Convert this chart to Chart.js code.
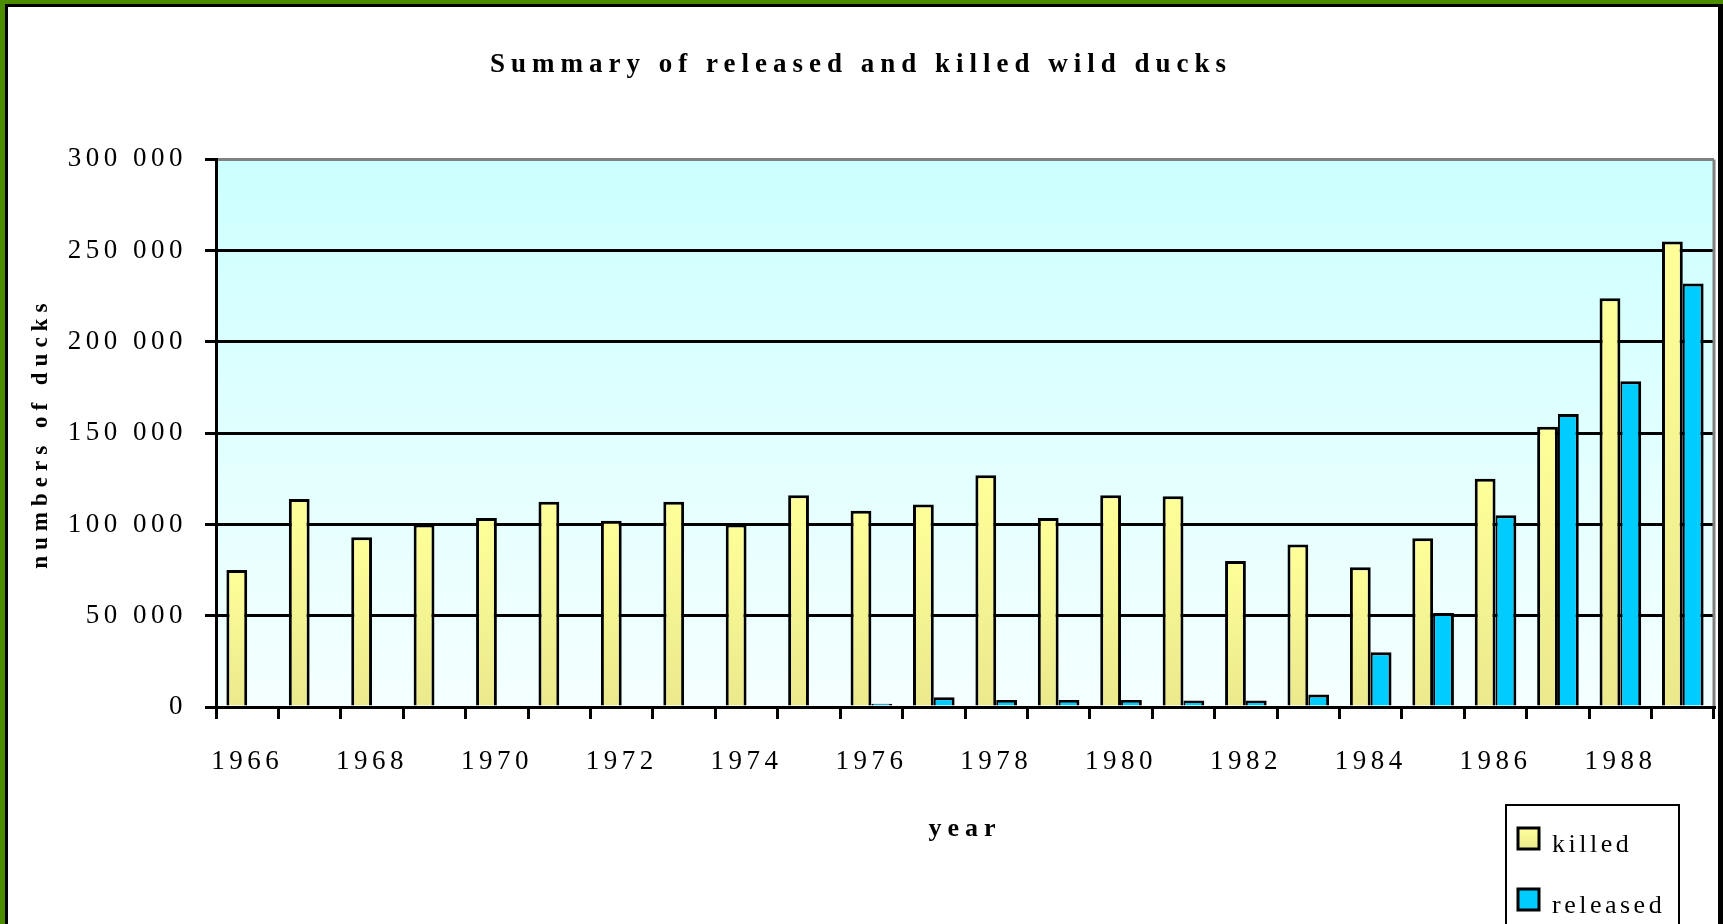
<!DOCTYPE html>
<html>
<head>
<meta charset="utf-8">
<title>Summary of released and killed wild ducks</title>
<script src="https://cdn.jsdelivr.net/npm/chart.js@4.4.0/dist/chart.umd.min.js"></script>
<style>
  html, body { margin: 0; padding: 0; background: #fff; }
  canvas { display: block; }
</style>
</head>
<body>
<canvas id="duckChart" width="1723" height="924"></canvas>
<script>
// values
const years = ["1966", "1967", "1968", "1969", "1970", "1971", "1972", "1973",
  "1974", "1975", "1976", "1977", "1978", "1979", "1980", "1981",
  "1982", "1983", "1984", "1985", "1986", "1987", "1988", "1989"];
const killed = [75000, 114000, 93000, 100000, 103500, 112500, 102000, 112500,
  100000, 116000, 107500, 111000, 127000, 103500, 116000, 115500,
  80000, 89000, 76500, 92500, 125000, 153500, 224000, 255000];
const released = [0, 0, 0, 0, 0, 0, 0, 0,
  0, 0, 1800, 5400, 3800, 3800, 3800, 3500,
  3500, 6800, 30000, 51500, 105000, 160500, 178500, 232000];
const yMax = 300000;
const yStep = 50000;

const serif = '"Liberation Serif", "Times New Roman", serif';

function spaced(v) {
  return String(v).replace(/\B(?=(\d{3})+(?!\d))/g, " ");
}

// yellow bars get a light-to-darker gradient from top to base
function killedFill(c) {
  const chart = c.chart;
  const y = chart.scales.y;
  if (!chart.chartArea || !y || c.raw === undefined) return "#ffff99";
  const top = y.getPixelForValue(c.raw);
  const base = y.getPixelForValue(0);
  const g = chart.ctx.createLinearGradient(0, top, 0, base);
  g.addColorStop(0, "#ffff99");
  g.addColorStop(1, "#ebe98c");
  return g;
}

const framePlugin = {
  id: "frame",
  beforeDraw(chart) {
    const { ctx, width, height, chartArea: a } = chart;
    ctx.save();
    ctx.fillStyle = "#ffffff";
    ctx.fillRect(0, 0, width, height);
    // green frame with a black inner line
    ctx.fillStyle = "#4b8c00";
    ctx.fillRect(0, 0, 5, height);
    ctx.fillRect(0, 0, width, 4);
    ctx.fillStyle = "#000000";
    ctx.fillRect(5, 4, 3, height);
    ctx.fillRect(5, 4, width - 5, 3);
    ctx.fillRect(1718, 4, 5, height);
    // plot area background
    const g = ctx.createLinearGradient(0, a.top, 0, a.bottom);
    g.addColorStop(0, "#ccffff");
    g.addColorStop(1, "#f5ffff");
    ctx.fillStyle = g;
    ctx.fillRect(a.left, a.top, a.right - a.left, a.bottom - a.top);
    ctx.restore();
    // spacing for title and axis titles
    ctx.letterSpacing = "6px";
  },
  beforeDatasetsDraw(chart) {
    const { ctx, chartArea: a } = chart;
    ctx.letterSpacing = "0px";
    ctx.save();
    ctx.strokeStyle = "#808080";
    ctx.lineWidth = 3;
    ctx.beginPath();
    ctx.moveTo(a.right, a.top);
    ctx.lineTo(a.right, a.bottom);
    ctx.stroke();
    ctx.restore();
  },
  afterDatasetsDraw(chart) {
    // tick labels are drawn after the bars (ticks.z = 1)
    chart.ctx.letterSpacing = "4.5px";
  },
  afterDraw(chart) {
    const ctx = chart.ctx;
    ctx.save();
    ctx.letterSpacing = "0px";
    ctx.fillStyle = "#ffffff";
    ctx.strokeStyle = "#000000";
    ctx.lineWidth = 2;
    ctx.fillRect(1506, 805, 173, 140);
    ctx.strokeRect(1506, 805, 173, 140);
    chart.data.datasets.forEach((ds, i) => {
      const y = 828 + i * 61;
      if (i === 0) {
        const g = ctx.createLinearGradient(0, y, 0, y + 21);
        g.addColorStop(0, "#ffff99");
        g.addColorStop(1, "#ebe98c");
        ctx.fillStyle = g;
      } else {
        ctx.fillStyle = ds.backgroundColor;
      }
      ctx.fillRect(1518, y, 21, 21);
      ctx.lineWidth = 3;
      ctx.strokeRect(1518, y, 21, 21);
      ctx.letterSpacing = "3.5px";
      ctx.font = "26px " + serif;
      ctx.fillStyle = "#000000";
      ctx.textAlign = "left";
      ctx.textBaseline = "alphabetic";
      ctx.fillText(ds.label, 1552, y + 24);
    });
    ctx.restore();
    ctx.letterSpacing = "0px";
  }
};

const ctx = document.getElementById("duckChart");

const duckChart = new Chart(ctx, {
  type: "bar",
  data: {
    labels: years,
    datasets: [
      {
        label: "killed",
        data: killed,
        backgroundColor: killedFill,
        borderColor: "#000000",
        borderWidth: 3,
        borderSkipped: "start",
      },
      {
        label: "released",
        data: released,
        backgroundColor: "#00ccff",
        borderColor: "#000000",
        borderWidth: { top: 3, right: 3, left: 2, bottom: 0 },
        borderSkipped: "start",
      },
    ],
  },
  options: {
    responsive: false,
    animation: false,
    events: [],
    categoryPercentage: 0.667,
    barPercentage: 1.0,
    layout: { padding: { top: 8, left: 8, right: 9, bottom: 0 } },
    plugins: {
      legend: { display: false },
      tooltip: { enabled: false },
      title: {
        display: true,
        text: "Summary of released and killed wild ducks",
        color: "#000000",
        font: { family: serif, size: 27, weight: "bold", lineHeight: 1.2 },
        padding: { top: 41, bottom: 78 },
      },
    },
    scales: {
      x: {
        afterFit: (scale) => { scale.height = 217; },
        grid: {
          offset: true,
          drawOnChartArea: false,
          drawTicks: true,
          tickLength: 12,
          color: "#000000",
          lineWidth: 3,
        },
        border: { color: "#000000", width: 3, z: 1 },
        ticks: {
          z: 1,
          autoSkip: false,
          maxRotation: 0,
          minRotation: 0,
          padding: 27,
          color: "#000000",
          font: { family: serif, size: 27 },
          callback: function (val, index) {
            return index % 2 === 0 ? this.getLabelForValue(val) : "";
          },
        },
        title: {
          display: true,
          text: "year",
          color: "#000000",
          font: { family: serif, size: 26, weight: "bold", lineHeight: 1.2 },
          padding: { top: 0, bottom: 79 },
        },
      },
      y: {
        min: 0,
        max: yMax,
        afterFit: (scale) => { scale.width = 208; },
        grid: {
          color: (c) => (c.tick && c.tick.value === yMax ? "#808080" : "#000000"),
          tickColor: "#000000",
          lineWidth: 3,
          tickLength: 11,
        },
        border: { color: "#000000", width: 3 },
        ticks: {
          z: 1,
          stepSize: yStep,
          padding: 18,
          color: "#000000",
          font: { family: serif, size: 27 },
          callback: (v) => spaced(v),
        },
        title: {
          display: true,
          text: "numbers of ducks",
          color: "#000000",
          font: { family: serif, size: 23, weight: "bold", lineHeight: 1.2 },
          padding: { top: 19, bottom: 0 },
        },
      },
    },
  },
  plugins: [framePlugin],
});
</script>
</body>
</html>
